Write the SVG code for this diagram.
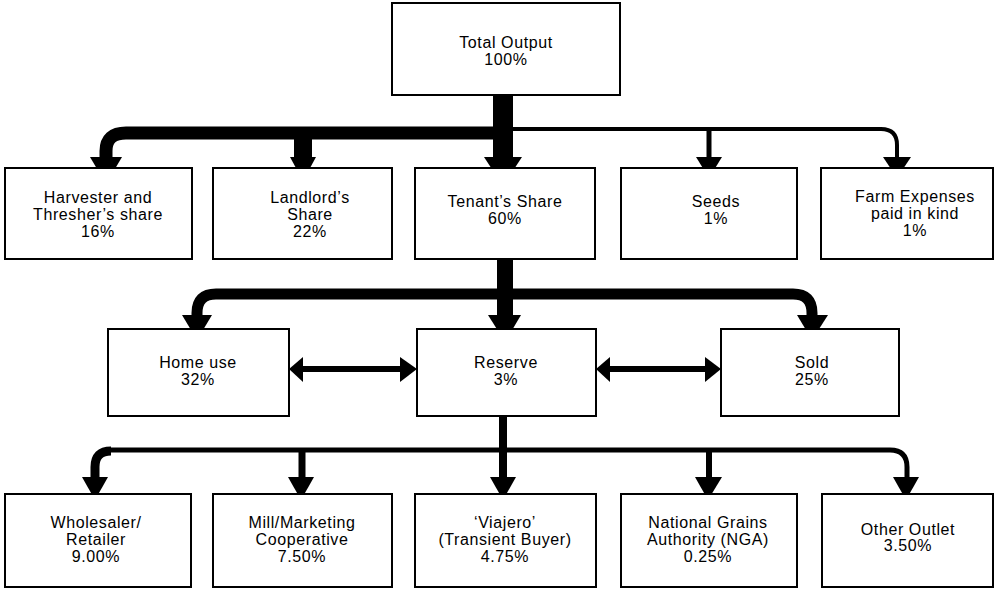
<svg xmlns="http://www.w3.org/2000/svg" width="997" height="590" viewBox="0 0 997 590">
<style>
.box{fill:#fff;stroke:#000;stroke-width:2}
.ln{fill:none;stroke:#000;stroke-linecap:butt;stroke-linejoin:round}
.ah{fill:#000;stroke:none}
text{font-family:"Liberation Sans",Arial,Helvetica,sans-serif;font-size:16px;letter-spacing:0.6px;fill:#000;text-anchor:middle}
</style>
<rect width="997" height="590" fill="#fff"/>
<g id="connectors">
  <!-- tier 1 -->
  <path class="ln" d="M503 95 V160" stroke-width="20"/>
  <path class="ln" d="M500 133 H126 Q106 133 106 151 V160" stroke-width="13"/>
  <path class="ln" d="M303 133 V160" stroke-width="18"/>
  <path class="ln" d="M510 129 H881 Q897 129 897 145 V160" stroke-width="4"/>
  <path class="ln" d="M709 129 V160" stroke-width="5"/>
  <polygon class="ah" points="90,157 122,157 106,184"/>
  <polygon class="ah" points="290,157 316,157 303,181"/>
  <polygon class="ah" points="484,157 522,157 503,186"/>
  <polygon class="ah" points="696,157 722,157 709,178"/>
  <polygon class="ah" points="883,157 911,157 897,178"/>
  <!-- tier 2 -->
  <path class="ln" d="M505 259 V318" stroke-width="16"/>
  <path class="ln" d="M197 318 V313 Q197 294 216 294 H793 Q812 294 812 313 V318" stroke-width="11"/>
  <polygon class="ah" points="182,315 212,315 197,340"/>
  <polygon class="ah" points="488,315 521,315 505,342"/>
  <polygon class="ah" points="797,315 828,315 812,340"/>
  <path class="ln" d="M300 369 H405" stroke-width="6"/>
  <polygon class="ah" points="289,369 303,357 303,382"/>
  <polygon class="ah" points="417,369 400,357 400,382"/>
  <path class="ln" d="M607 369 H710" stroke-width="6"/>
  <polygon class="ah" points="596,369 610,357 610,382"/>
  <polygon class="ah" points="721,369 705,357 705,382"/>
  <!-- tier 3 -->
  <path class="ln" d="M503 415 V480" stroke-width="8"/>
  <path class="ln" d="M108 450 H890 Q907 450 907 467 V480" stroke-width="5"/>
  <path class="ln" d="M95 480 V467 Q95 451 111 451" stroke-width="9"/>
  <path class="ln" d="M302 450 V480" stroke-width="7"/>
  <path class="ln" d="M709 450 V480" stroke-width="6"/>
  <polygon class="ah" points="82,477 108,477 95,500"/>
  <polygon class="ah" points="288,477 314,477 301,500"/>
  <polygon class="ah" points="490,477 516,477 503,500"/>
  <polygon class="ah" points="695,477 722,477 708,500"/>
  <polygon class="ah" points="893,477 919,477 906,500"/>
</g>
<g id="total">
  <rect class="box" x="392" y="3" width="228" height="92"/>
  <text x="506" y="48">Total Output</text>
  <text x="506" y="65">100%</text>
</g>
<g id="harvester">
  <rect class="box" x="5" y="168" width="187" height="91"/>
  <text x="98" y="203">Harvester and</text>
  <text x="98" y="220">Thresher’s share</text>
  <text x="98" y="237">16%</text>
</g>
<g id="landlord">
  <rect class="box" x="213" y="168" width="179" height="91"/>
  <text x="310" y="203">Landlord’s</text>
  <text x="310" y="220">Share</text>
  <text x="310" y="237">22%</text>
</g>
<g id="tenant">
  <rect class="box" x="415" y="168" width="180" height="91"/>
  <text x="505" y="207">Tenant’s Share</text>
  <text x="505" y="224">60%</text>
</g>
<g id="seeds">
  <rect class="box" x="621" y="168" width="176" height="91"/>
  <text x="716" y="207">Seeds</text>
  <text x="716" y="224">1%</text>
</g>
<g id="farm">
  <rect class="box" x="821" y="168" width="172" height="91"/>
  <text x="915" y="202">Farm Expenses</text>
  <text x="915" y="219">paid in kind</text>
  <text x="915" y="236">1%</text>
</g>
<g id="home">
  <rect class="box" x="108" y="329" width="181" height="87"/>
  <text x="198" y="368">Home use</text>
  <text x="198" y="385">32%</text>
</g>
<g id="reserve">
  <rect class="box" x="417" y="329" width="179" height="87"/>
  <text x="506" y="368">Reserve</text>
  <text x="506" y="385">3%</text>
</g>
<g id="sold">
  <rect class="box" x="721" y="329" width="178" height="87"/>
  <text x="812" y="368">Sold</text>
  <text x="812" y="385">25%</text>
</g>
<g id="wholesaler">
  <rect class="box" x="5" y="494" width="186" height="93"/>
  <text x="96" y="528">Wholesaler/</text>
  <text x="96" y="545">Retailer</text>
  <text x="96" y="562">9.00%</text>
</g>
<g id="mill">
  <rect class="box" x="213" y="494" width="179" height="93"/>
  <text x="302" y="528">Mill/Marketing</text>
  <text x="302" y="545">Cooperative</text>
  <text x="302" y="562">7.50%</text>
</g>
<g id="viajero">
  <rect class="box" x="415" y="494" width="181" height="93"/>
  <text x="505" y="528">‘Viajero’</text>
  <text x="505" y="545">(Transient Buyer)</text>
  <text x="505" y="562">4.75%</text>
</g>
<g id="nga">
  <rect class="box" x="621" y="494" width="176" height="93"/>
  <text x="708" y="528">National Grains</text>
  <text x="708" y="545">Authority (NGA)</text>
  <text x="708" y="562">0.25%</text>
</g>
<g id="other">
  <rect class="box" x="822" y="494" width="171" height="93"/>
  <text x="908" y="535">Other Outlet</text>
  <text x="908" y="551">3.50%</text>
</g>
</svg>
